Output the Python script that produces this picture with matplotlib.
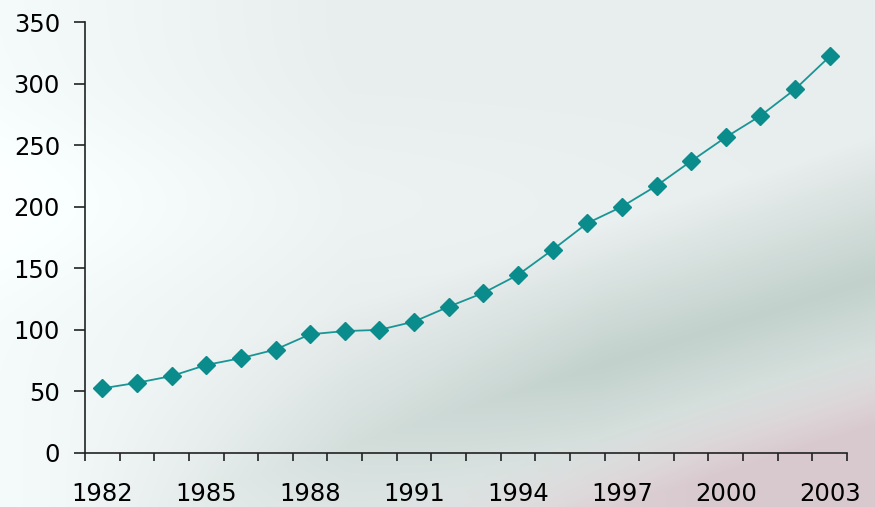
import numpy as np
import matplotlib
matplotlib.use("Agg")
import matplotlib.pyplot as plt

# data
years = list(range(1982, 2004))
values = [52.5, 57, 62.5, 71.5, 77, 84, 96.4, 99, 100, 106.7, 118.8, 130,
          144.6, 165, 186.6, 200, 217, 237, 256.4, 273.8, 295.4, 322]
year_labels = [str(y) for y in years[::3]]

W, H = 875, 507
fig = plt.figure(figsize=(W / 100, H / 100), dpi=100)

# soft photo-like background: pale grey top, greenish band, pink bottom-right
bg = fig.add_axes([0, 0, 1, 1])
gx, gy = np.meshgrid(np.linspace(0, 1, 300), np.linspace(0, 1, 180))
d = gy - 0.55 * gx          # diagonal coordinate, rising to the right
top = np.array([0.91, 0.93, 0.93])
green = np.array([0.76, 0.82, 0.80])
pink = np.array([0.85, 0.79, 0.81])
w_green = np.clip(1 - np.abs(d + 0.10) / 0.28, 0, 1) * np.clip(gx * 1.6 - 0.1, 0, 1)
w_pink = np.clip((-d - 0.24) / 0.15, 0, 1) * np.clip(gx * 1.6 - 0.3, 0, 1)
w_green = w_green * (1 - w_pink)
img = (top[None, None, :] * (1 - w_green - w_pink)[..., None]
       + green[None, None, :] * w_green[..., None]
       + pink[None, None, :] * w_pink[..., None])
# lighter areas on the left and in the middle
img += 0.05 * np.clip(1 - gx * 2.5, 0, 1)[..., None]
img += 0.03 * np.exp(-((gy - 0.6) ** 2) / 0.03)[..., None] * np.clip(1 - gx, 0, 1)[..., None]
img = np.clip(img, 0, 1)
bg.imshow(img, origin="lower", aspect="auto", extent=[0, 1, 0, 1])
bg.axis("off")

ax = fig.add_axes([85 / W, 54 / H, (847 - 85) / W, (453 - 22) / H])
ax.patch.set_alpha(0)

x = np.arange(len(years))
ax.plot(x, values, color="#1a9595", lw=1.3, marker="D", markersize=9,
        markerfacecolor="#0b8c8c", markeredgecolor="#0b8c8c")

ax.set_ylim(0, 350)
ax.set_yticks(range(0, 351, 50))
ax.set_xlim(-0.5, len(years) - 0.5)

# category axis: ticks between categories, labels every third year
ax.set_xticks(np.arange(-0.5, len(years)), labels=[])
ax.set_xticks(x[::3], labels=year_labels, minor=True)
ax.tick_params(axis="x", which="major", direction="out", length=6, width=1.2,
               color="#222222")
ax.tick_params(axis="x", which="minor", length=0, pad=21, labelsize=17.5)
ax.tick_params(axis="y", direction="out", length=8, width=1.2, color="#222222",
               pad=10, labelsize=17.5)

for s in ["top", "right"]:
    ax.spines[s].set_visible(False)
for s in ["left", "bottom"]:
    ax.spines[s].set_color("#222222")
    ax.spines[s].set_linewidth(1.2)

fig.savefig("out.png", dpi=100)
